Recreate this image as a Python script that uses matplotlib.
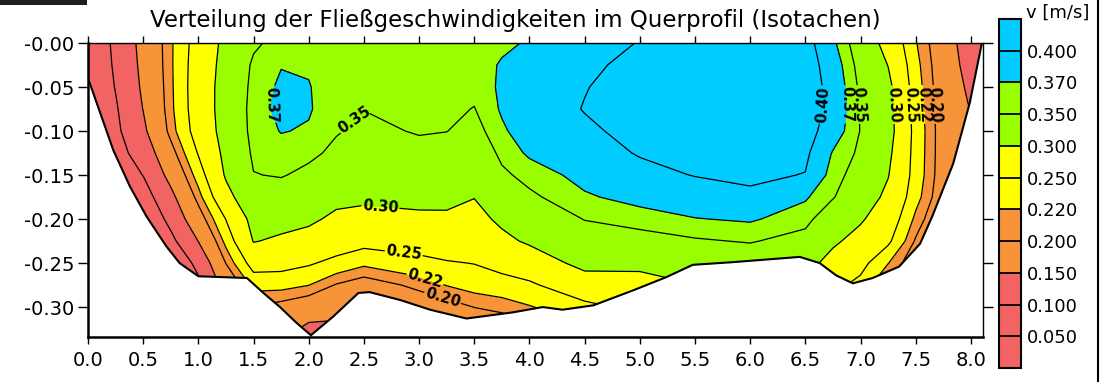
import numpy as np
import matplotlib
matplotlib.use("Agg")
import matplotlib.pyplot as plt
from matplotlib.patches import Polygon, Rectangle
from matplotlib.lines import Line2D

plt.rcParams['font.family'] = ['DejaVu Sans']

# Measurement stations across the section [m] and depths below the water surface [m]
stations = [0.0, 0.25, 0.5, 0.75, 1.0, 1.25, 1.5, 1.75, 2.0, 2.25, 2.5, 3.0, 3.25, 3.5,
            3.75, 4.0, 4.5, 5.0, 5.5, 6.0, 6.5, 6.75, 7.0, 7.25, 7.5, 7.75, 8.0, 8.1]
depths = [0.0, -0.025, -0.05, -0.075, -0.1, -0.125, -0.15, -0.175, -0.2, -0.225,
          -0.25, -0.275, -0.3, -0.325, -0.34]

# Flow velocity v [m/s], one row per depth, one column per station
velocity = [
    [0.055, 0.111, 0.164, 0.216, 0.267, 0.312, 0.345, 0.360, 0.362, 0.358, 0.351, 0.355, 0.358, 0.362, 0.366, 0.372, 0.390, 0.401, 0.410, 0.412, 0.412, 0.375, 0.333, 0.283, 0.222, 0.177, 0.122, 0.110],
    [0.055, 0.107, 0.161, 0.216, 0.270, 0.316, 0.355, 0.369, 0.368, 0.360, 0.355, 0.358, 0.360, 0.361, 0.372, 0.381, 0.395, 0.407, 0.415, 0.418, 0.415, 0.385, 0.340, 0.299, 0.228, 0.180, 0.130, 0.115],
    [0.055, 0.102, 0.157, 0.215, 0.272, 0.319, 0.358, 0.374, 0.371, 0.360, 0.356, 0.358, 0.358, 0.357, 0.374, 0.386, 0.399, 0.410, 0.418, 0.420, 0.416, 0.390, 0.345, 0.312, 0.232, 0.182, 0.140, 0.120],
    [0.055, 0.095, 0.151, 0.214, 0.271, 0.320, 0.360, 0.376, 0.372, 0.358, 0.3505, 0.356, 0.356, 0.349, 0.373, 0.387, 0.401, 0.410, 0.418, 0.420, 0.415, 0.392, 0.348, 0.316, 0.235, 0.184, 0.148, 0.125],
    [0.055, 0.090, 0.141, 0.209, 0.267, 0.318, 0.359, 0.371, 0.368, 0.352, 0.344, 0.352, 0.3505, 0.340, 0.366, 0.384, 0.396, 0.407, 0.415, 0.418, 0.412, 0.385, 0.349, 0.318, 0.238, 0.185, 0.152, 0.130],
    [0.055, 0.082, 0.121, 0.188, 0.2525, 0.312, 0.355, 0.362, 0.356, 0.344, 0.335, 0.342, 0.338, 0.328, 0.356, 0.374, 0.388, 0.402, 0.408, 0.412, 0.406, 0.368, 0.345, 0.310, 0.237, 0.185, 0.155, 0.135],
    [0.055, 0.070, 0.101, 0.165, 0.2325, 0.305, 0.349, 0.352, 0.343, 0.330, 0.322, 0.327, 0.324, 0.314, 0.345, 0.358, 0.378, 0.392, 0.401, 0.405, 0.399, 0.360, 0.337, 0.302, 0.236, 0.184, 0.155, 0.140],
    [0.048, 0.060, 0.078, 0.1375, 0.210, 0.285, 0.335, 0.335, 0.327, 0.313, 0.306, 0.310, 0.309, 0.301, 0.327, 0.345, 0.367, 0.378, 0.386, 0.395, 0.373, 0.352, 0.325, 0.290, 0.230, 0.180, 0.152, 0.140],
    [0.045, 0.048, 0.055, 0.114, 0.183, 0.251, 0.315, 0.315, 0.309, 0.290, 0.290, 0.293, 0.294, 0.287, 0.308, 0.327, 0.351, 0.360, 0.369, 0.373, 0.358, 0.330, 0.305, 0.275, 0.214, 0.170, 0.152, 0.140],
    [0.045, 0.045, 0.048, 0.0875, 0.151, 0.228, 0.302, 0.293, 0.282, 0.271, 0.262, 0.267, 0.273, 0.272, 0.290, 0.306, 0.334, 0.339, 0.347, 0.352, 0.340, 0.307, 0.285, 0.257, 0.197, 0.160, 0.140, 0.130],
    [0.045, 0.045, 0.045, 0.060, 0.1125, 0.201, 0.266, 0.263, 0.254, 0.240, 0.226, 0.240, 0.247, 0.251, 0.262, 0.275, 0.313, 0.310, 0.325, 0.330, 0.315, 0.285, 0.262, 0.221, 0.180, 0.148, 0.130, 0.120],
    [0.045, 0.045, 0.045, 0.045, 0.090, 0.170, 0.228, 0.229, 0.2205, 0.198, 0.185, 0.207, 0.221, 0.231, 0.237, 0.244, 0.277, 0.284, 0.299, 0.310, 0.290, 0.260, 0.240, 0.190, 0.160, 0.140, 0.120, 0.110],
    [0.045, 0.045, 0.045, 0.045, 0.080, 0.140, 0.199, 0.190, 0.178, 0.165, 0.160, 0.180, 0.188, 0.2005, 0.207, 0.218, 0.240, 0.260, 0.280, 0.290, 0.270, 0.240, 0.219, 0.170, 0.149, 0.130, 0.110, 0.105],
    [0.045, 0.045, 0.045, 0.045, 0.070, 0.120, 0.180, 0.170, 0.138, 0.140, 0.140, 0.160, 0.170, 0.175, 0.180, 0.190, 0.210, 0.240, 0.260, 0.270, 0.250, 0.220, 0.199, 0.149, 0.130, 0.120, 0.105, 0.105],
    [0.045, 0.045, 0.045, 0.045, 0.065, 0.110, 0.170, 0.160, 0.125, 0.130, 0.130, 0.152, 0.160, 0.165, 0.170, 0.180, 0.201, 0.230, 0.250, 0.260, 0.240, 0.210, 0.190, 0.140, 0.125, 0.115, 0.095, 0.095],
]

# Cross-section outline: banks and river bed
bed_x = [0.0, 0.0, 0.23, 0.38, 0.53, 0.71, 0.83, 1.0, 1.44, 1.59, 1.74, 1.89, 2.02, 2.22,
         2.45, 2.55, 2.83, 3.10, 3.43, 3.85, 4.12, 4.30, 4.58, 4.94, 5.24, 5.48, 5.84,
         6.45, 6.63, 6.78, 6.93, 7.11, 7.35, 7.54, 7.65, 7.84, 7.99, 8.10]
bed_z = [0.0, -0.040, -0.122, -0.163, -0.197, -0.231, -0.250, -0.265, -0.267, -0.284,
         -0.300, -0.318, -0.332, -0.311, -0.284, -0.283, -0.292, -0.303, -0.313, -0.306,
         -0.300, -0.303, -0.298, -0.281, -0.266, -0.252, -0.249, -0.243, -0.250, -0.264,
         -0.273, -0.267, -0.254, -0.228, -0.197, -0.137, -0.068, 0.0]

# Isotach levels and band colours (below 0.05 ... above 0.40)
levels = [0.05, 0.10, 0.15, 0.20, 0.22, 0.25, 0.30, 0.35, 0.37, 0.40]
band_colors = ['#F26363', '#F26363', '#F26363', '#F7943A', '#F7943A', '#FFFF00',
               '#FFFF00', '#99FF00', '#99FF00', '#00CCFF', '#00CCFF']
legend_labels = ['0.050', '0.100', '0.150', '0.200', '0.220', '0.250', '0.300',
                 '0.350', '0.370', '0.400']

x_ticks = [0.0, 0.5, 1.0, 1.5, 2.0, 2.5, 3.0, 3.5, 4.0, 4.5, 5.0, 5.5, 6.0, 6.5, 7.0, 7.5, 8.0]
x_tick_labels = ['0.0', '0.5', '1.0', '1.5', '2.0', '2.5', '3.0', '3.5', '4.0', '4.5',
                 '5.0', '5.5', '6.0', '6.5', '7.0', '7.5', '8.0']
y_ticks = [0.0, -0.05, -0.10, -0.15, -0.20, -0.25, -0.30]
y_tick_labels = ['-0.00', '-0.05', '-0.10', '-0.15', '-0.20', '-0.25', '-0.30']

title = 'Verteilung der Fließgeschwindigkeiten im Querprofil (Isotachen)'
unit_label = 'v [m/s]'

# Contour labels: (level, anchor point near the isotach)
contour_labels = [
    (0.37, (1.67, -0.070)), (0.35, (2.40, -0.085)), (0.30, (2.65, -0.186)),
    (0.25, (2.86, -0.239)), (0.22, (3.06, -0.266)), (0.20, (3.22, -0.287)),
    (0.40, (6.67, -0.070)), (0.37, (6.84, -0.070)), (0.35, (6.97, -0.070)),
    (0.30, (7.31, -0.070)), (0.25, (7.44, -0.070)), (0.22, (7.55, -0.070)),
    (0.20, (7.65, -0.070)),
]

W, H = 1102, 382
fig = plt.figure(figsize=(W / 100, H / 100), dpi=100)
ax = fig.add_axes([88 / W, 1 - 337 / H, (983 - 88) / W, (337 - 43) / H])

X, Y = np.meshgrid(stations, depths)
V = np.array(velocity)

section = Polygon(np.column_stack([bed_x, bed_z]), closed=True, facecolor='none',
                  edgecolor='black', linewidth=1.5, zorder=3)
ax.add_patch(section)

cf = ax.contourf(X, Y, V, levels=levels, colors=band_colors, extend='both')
cf.set_clip_path(section)

# One line set per isotach so each label lands on its own level
for lev in levels:
    cl = ax.contour(X, Y, V, levels=[lev], colors='black', linewidths=0.9)
    cl.set_clip_path(section)
    spots = [pos for lv, pos in contour_labels if lv == lev]
    if spots:
        plt.rcParams['font.weight'] = 'bold'
        ax.clabel(cl, manual=spots, inline=True, inline_spacing=1,
                  fmt='%.2f', fontsize=10.5, colors='black')
        plt.rcParams['font.weight'] = 'normal'

ax.set_xlim(0, 8.11)
ax.set_ylim(-0.334, 0)
ax.set_xticks(x_ticks)
ax.set_xticklabels(x_tick_labels)
ax.set_yticks(y_ticks)
ax.set_yticklabels(y_tick_labels)
ax.tick_params(which='both', direction='out', top=True, right=True,
               labeltop=False, labelright=False, width=1, labelsize=14, colors='black')
ax.tick_params(axis='x', length=5, pad=5)
ax.tick_params(axis='y', length=7, pad=3)
for side in ('left', 'bottom'):
    ax.spines[side].set_linewidth(1.8)
for side in ('top', 'right'):
    ax.spines[side].set_linewidth(1.0)

# Colour legend with equal boxes
cax = fig.add_axes([999 / W, 1 - 368 / H, 22 / W, (368 - 19) / H])
cb = fig.colorbar(cf, cax=cax, ticks=levels, spacing='uniform', extendrect=True,
                  extendfrac=1 / 9, drawedges=True)
cb.set_ticklabels(legend_labels)
cb.outline.set_linewidth(1.5)
cb.outline.set_edgecolor('black')
cb.dividers.set_color('black')
cb.dividers.set_linewidth(1.3)
cb.ax.tick_params(length=0, labelsize=13, pad=4)

fig.text(515 / W, 1 - 21 / H, title, ha='center', va='center', fontsize=16.5)
fig.text(1026 / W, 1 - 13 / H, unit_label, ha='left', va='center', fontsize=13)

# Window frame pieces
fig.add_artist(Rectangle((0, 1 - 4.5 / H), 87 / W, 4.5 / H, transform=fig.transFigure,
                         facecolor='#1e1e1e', edgecolor='none'))
fig.add_artist(Line2D([1097.5 / W, 1097.5 / W], [0, 1], transform=fig.transFigure,
                      color='black', linewidth=1.5))

fig.savefig('out.png', dpi=100)
